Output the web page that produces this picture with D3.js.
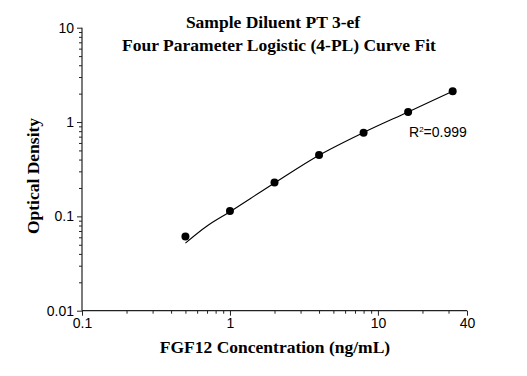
<!DOCTYPE html>
<html lang="en">
<head>
<meta charset="utf-8">
<title>FGF12 4-PL Curve</title>
<script src="https://cdn.jsdelivr.net/npm/d3@7"></script>
<style>
  body { margin: 0; background: #fff; }
  .tick text { font-family: "Liberation Sans", Arial, sans-serif; font-size: 14px; fill: #000; }
</style>
</head>
<body>
<script type="text/javascript">

var width = 527;
var height = 376;

// standard points
var concentrations = [0.5, 1, 2, 4, 8, 16, 32];
var odValues = [0.061, 0.114, 0.228, 0.447, 0.771, 1.28, 2.12];

// fitted curve
var fitConc = [0.5, 0.7, 1, 2, 4, 8, 16, 32];
var fitOd = [0.052, 0.079, 0.112, 0.226, 0.445, 0.775, 1.28, 2.12];

var xTicks = [0.1, 1, 10, 40];
var xTickLabels = ["0.1", "1", "10", "40"];
var xMinor = [0.2, 0.3, 0.4, 0.5, 0.6, 0.7, 0.8, 0.9, 2, 3, 4, 5, 6, 7, 8, 9, 20, 30];
var yTicks = [0.01, 0.1, 1, 10];
var yTickLabels = ["0.01", "0.1", "1", "10"];
var yMinor = [];
[0.01, 0.1, 1].forEach(function (d) {
    [2, 3, 4, 5, 6, 7, 8, 9].forEach(function (m) { yMinor.push(+(d * m).toPrecision(3)); });
});

var titleLines = ["Sample Diluent PT 3-ef", "Four Parameter Logistic (4-PL) Curve Fit"];
var xLabel = "FGF12 Concentration (ng/mL)";
var yLabel = "Optical Density";

var plotLeft = 82, plotRight = 467, plotTop = 27.7, plotBottom = 310.7;

var x = d3.scaleLog().domain([0.1, 40]).range([plotLeft, plotRight]);
var y = d3.scaleLog().domain([0.01, 10]).range([plotBottom, plotTop]);

var svg = d3.select("body").append("svg")
            .attr("width", width)
            .attr("height", height);

// axes
var xAxis = svg.append("g")
    .attr("transform", "translate(0," + plotBottom + ")")
    .call(d3.axisBottom(x).tickValues(xTicks).tickSize(5).tickPadding(2)
        .tickFormat(function (d, i) { return xTickLabels[i]; }));
svg.append("g")
    .attr("transform", "translate(0," + plotBottom + ")")
    .call(d3.axisBottom(x).tickValues(xMinor).tickSize(3).tickFormat(""))
    .select(".domain").remove();

var yAxis = svg.append("g")
    .attr("transform", "translate(" + plotLeft + ",0)")
    .call(d3.axisLeft(y).tickValues(yTicks).tickSize(5).tickPadding(3)
        .tickFormat(function (d, i) { return yTickLabels[i]; }));
svg.append("g")
    .attr("transform", "translate(" + plotLeft + ",0)")
    .call(d3.axisLeft(y).tickValues(yMinor).tickSize(3).tickFormat(""))
    .select(".domain").remove();

svg.selectAll(".domain").attr("stroke", "#222").attr("stroke-width", 1.2);
svg.selectAll(".tick line").attr("stroke", "#222");
// no end caps on the domain paths
xAxis.select(".domain").attr("d", "M" + plotLeft + ",0H" + plotRight);
yAxis.select(".domain").attr("d", "M0," + plotBottom + "V" + plotTop);

// fit line
var line = d3.line()
    .x(function (d) { return x(d[0]); })
    .y(function (d) { return y(d[1]); })
    .curve(d3.curveCatmullRom);

svg.append("path")
    .datum(fitConc.map(function (c, i) { return [c, fitOd[i]]; }))
    .attr("d", line)
    .attr("fill", "none")
    .attr("stroke", "#000")
    .attr("stroke-width", 1.1);

// points
svg.selectAll("circle")
    .data(concentrations)
    .enter()
    .append("circle")
    .attr("cx", function (d) { return x(d); })
    .attr("cy", function (d, i) { return y(odValues[i]); })
    .attr("r", 4)
    .attr("fill", "#000");

// R^2 note
var r2 = svg.append("text")
    .attr("x", 409)
    .attr("y", 137)
    .style("font-family", "'Liberation Sans', Arial, sans-serif")
    .style("font-size", "14px");
r2.append("tspan").text("R");
r2.append("tspan").attr("dy", -5).style("font-size", "8px").text("2");
r2.append("tspan").attr("dy", 5).text("=0.999");

// titles and labels
var serif = "'Liberation Serif', 'Times New Roman', serif";
svg.append("text")
    .attr("x", 273).attr("y", 28)
    .attr("text-anchor", "middle")
    .style("font-family", serif).style("font-weight", "bold").style("font-size", "17.5px")
    .text(titleLines[0]);
svg.append("text")
    .attr("x", 279).attr("y", 51)
    .attr("text-anchor", "middle")
    .style("font-family", serif).style("font-weight", "bold").style("font-size", "17.5px")
    .text(titleLines[1]);

svg.append("text")
    .attr("x", 275).attr("y", 353)
    .attr("text-anchor", "middle")
    .style("font-family", serif).style("font-weight", "bold").style("font-size", "17.5px")
    .text(xLabel);

svg.append("text")
    .attr("transform", "translate(39,176) rotate(-90)")
    .attr("text-anchor", "middle")
    .style("font-family", serif).style("font-weight", "bold").style("font-size", "17.5px")
    .text(yLabel);

</script>
</body>
</html>
